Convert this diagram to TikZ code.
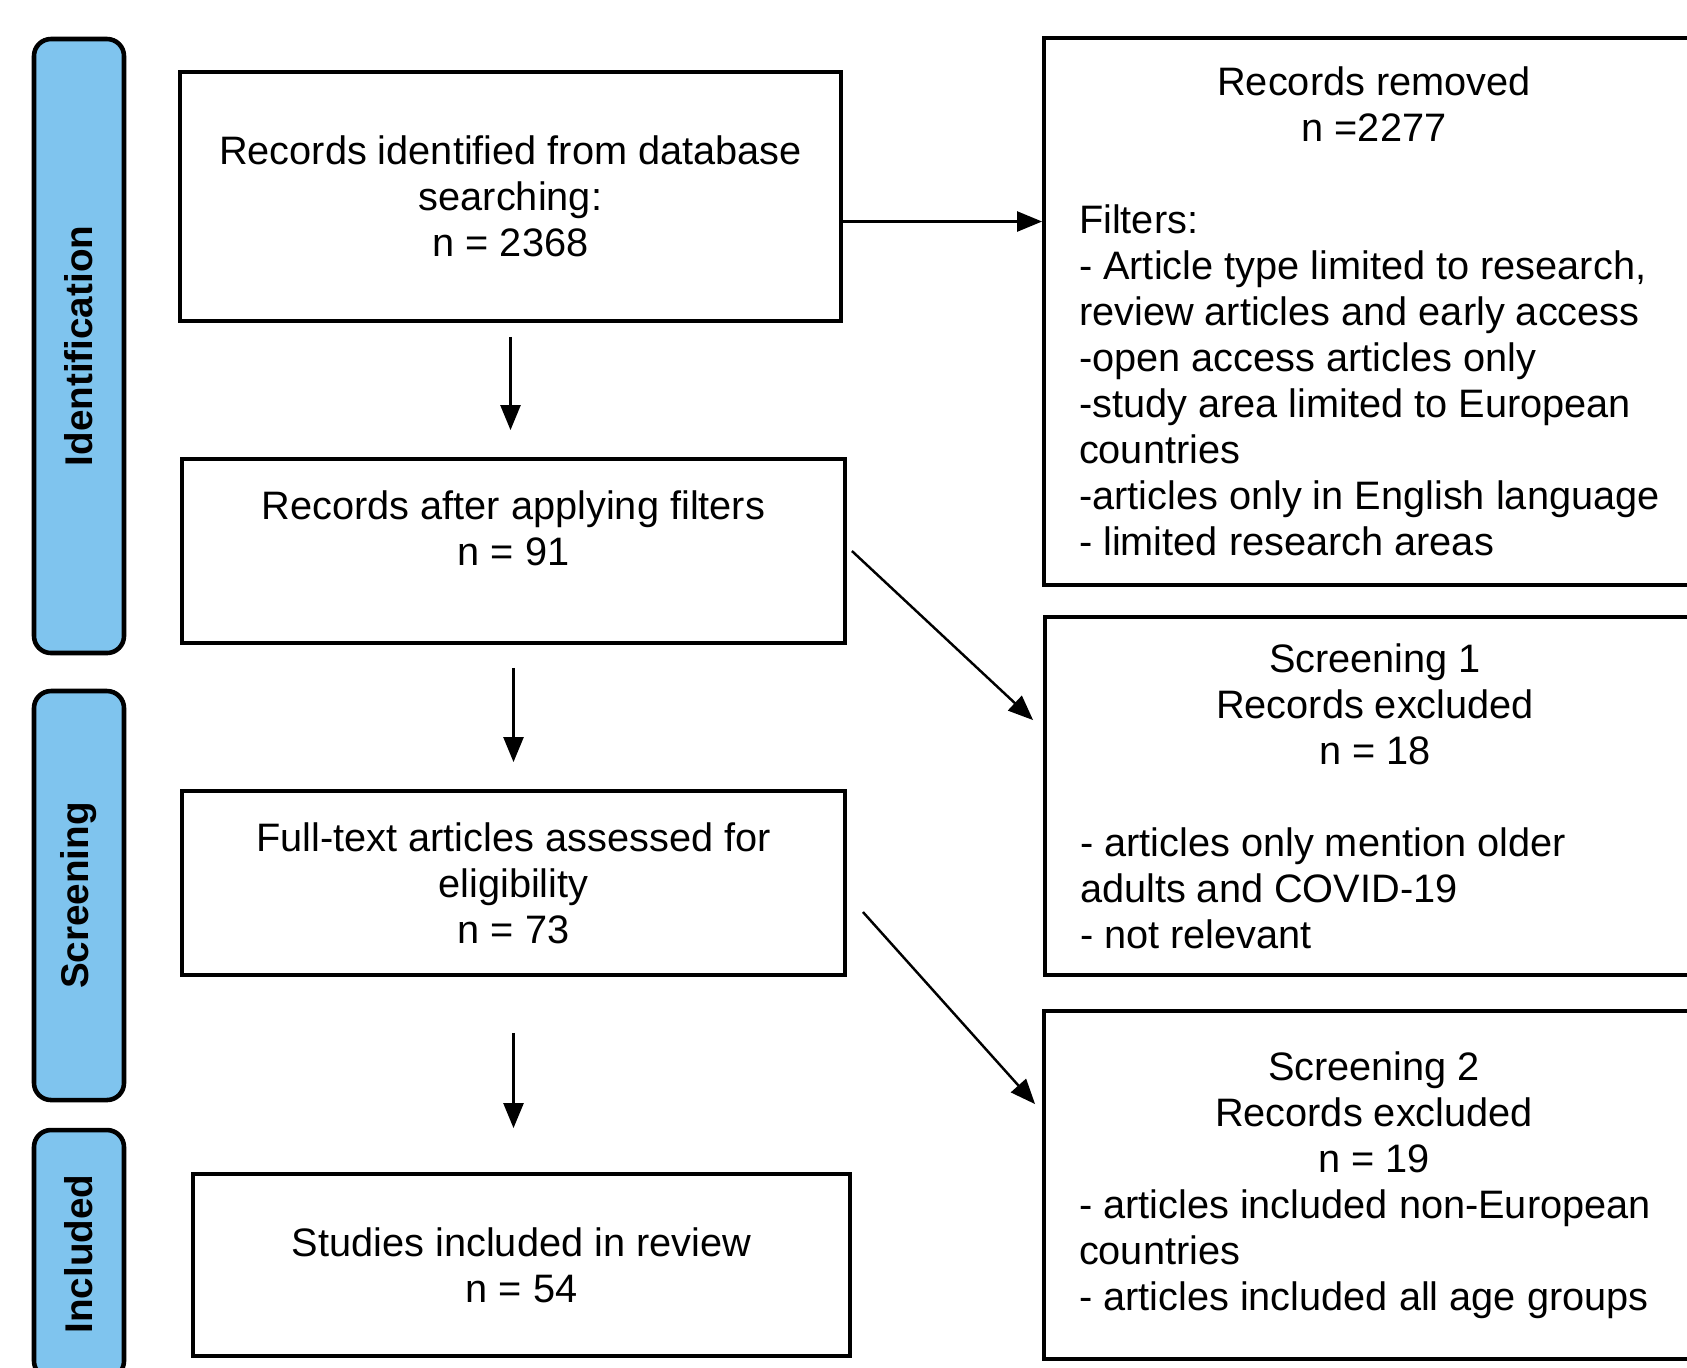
\documentclass[tikz,border=0pt]{standalone}
\usepackage{graphicx}
\usepackage{fontspec}
\setmainfont{Liberation Sans}
\usetikzlibrary{arrows.meta}
\definecolor{ink}       {HTML}{000000}
\definecolor{stageblue} {HTML}{7FC4EE}
\tikzset{
  stagebar/.style ={draw=ink, fill=stageblue, line width=1.3pt,
                    rounded corners=0.17cm, minimum width=0.9cm,
                    inner sep=0pt, font=\fontsize{11}{13}\selectfont\bfseries},
  flowbox/.style  ={draw=ink, fill=white, line width=1.1pt,
                    align=center, inner sep=4pt,
                    font=\fontsize{11.3}{13.1}\selectfont},
  notebox/.style  ={draw=ink, fill=white, line width=1.1pt,
                    minimum width=6.6cm, inner xsep=0.35cm, inner ysep=0.05cm,
                    font=\fontsize{11.3}{13.1}\selectfont},
  flowarr/.style  ={-{Triangle[length=2.5mm,width=2mm]}, line width=0.7pt},
}

\begin{document}
\begin{tikzpicture}[x=1cm,y=1cm]
        \useasboundingbox[fill=white] (0,0) rectangle (16.87,-13.67);
        % stage bars
        \node[stagebar, minimum height=6.14cm] (idbar) at (0.79,-3.46)
          {\rotatebox{90}{Identification}};
        \node[stagebar, minimum height=4.09cm] (scbar) at (0.79,-8.955)
          {\rotatebox{90}{Screening}};
        \node[stagebar, minimum height=2.48cm] (inbar) at (0.79,-12.54)
          {\rotatebox{90}{Included}};
        % main flow
        \node[flowbox, minimum width=6.61cm, minimum height=2.49cm] (idf) at (5.105,-1.965)
          {Records identified from database\\searching:\\n = 2368};
        \node[flowbox, minimum width=6.63cm, minimum height=1.84cm] (aft) at (5.135,-5.51)
          {Records after applying filters\\n = 91\\\mbox{}};
        \node[flowbox, minimum width=6.63cm, minimum height=1.84cm] (ful) at (5.135,-8.83)
          {Full-text articles assessed for\\eligibility\\n = 73};
        \node[flowbox, minimum width=6.57cm, minimum height=1.82cm] (inc) at (5.215,-12.65)
          {Studies included in review\\n = 54};
        % exclusions
        \node[notebox, minimum height=5.47cm] (rem) at (13.74,-3.115)
          {\parbox{5.9cm}{\centering Records removed\\n =2277\par
            \raggedright\vspace{\baselineskip}Filters:\\
            - Article type limited to research, review articles and early access\\
            -open access articles only\\
            -study area limited to European countries\\
            -articles only in English language\\
            - limited research areas}};
        \node[notebox, minimum height=3.58cm] (scr1) at (13.75,-7.96)
          {\parbox{5.9cm}{\centering Screening 1\\Records excluded\\n = 18\par
            \raggedright\vspace{\baselineskip}- articles only mention older\\
            adults and COVID-19\\
            - not relevant}};
        \node[notebox, minimum height=3.48cm] (scr2) at (13.74,-11.85)
          {\parbox{5.9cm}{\centering Screening 2\\Records excluded\\n = 19\par
            \raggedright - articles included non-European\\
            countries\\
            - articles included all age groups}};
        % arrows
        \draw[flowarr] ([yshift=-0.25cm]idf.east) -- ([yshift=-0.25cm]idf.east -| rem.west);
        \draw[flowarr, shorten <=0.14cm, shorten >=0.27cm] (idf.south) -- (idf.south |- aft.north);
        \draw[flowarr, shorten <=0.23cm, shorten >=0.27cm] (aft.south) -- (aft.south |- ful.north);
        \draw[flowarr, shorten <=0.56cm, shorten >=0.44cm] (ful.south) -- (ful.south |- inc.north);
        \draw[flowarr] ([xshift=0.05cm]aft.east) -- ([xshift=-0.1cm,yshift=-1.05cm]scr1.north west);
        \draw[flowarr] ([xshift=0.16cm,yshift=-0.29cm]ful.east) -- ([xshift=-0.07cm,yshift=-0.95cm]scr2.north west);
\end{tikzpicture}
\end{document}
